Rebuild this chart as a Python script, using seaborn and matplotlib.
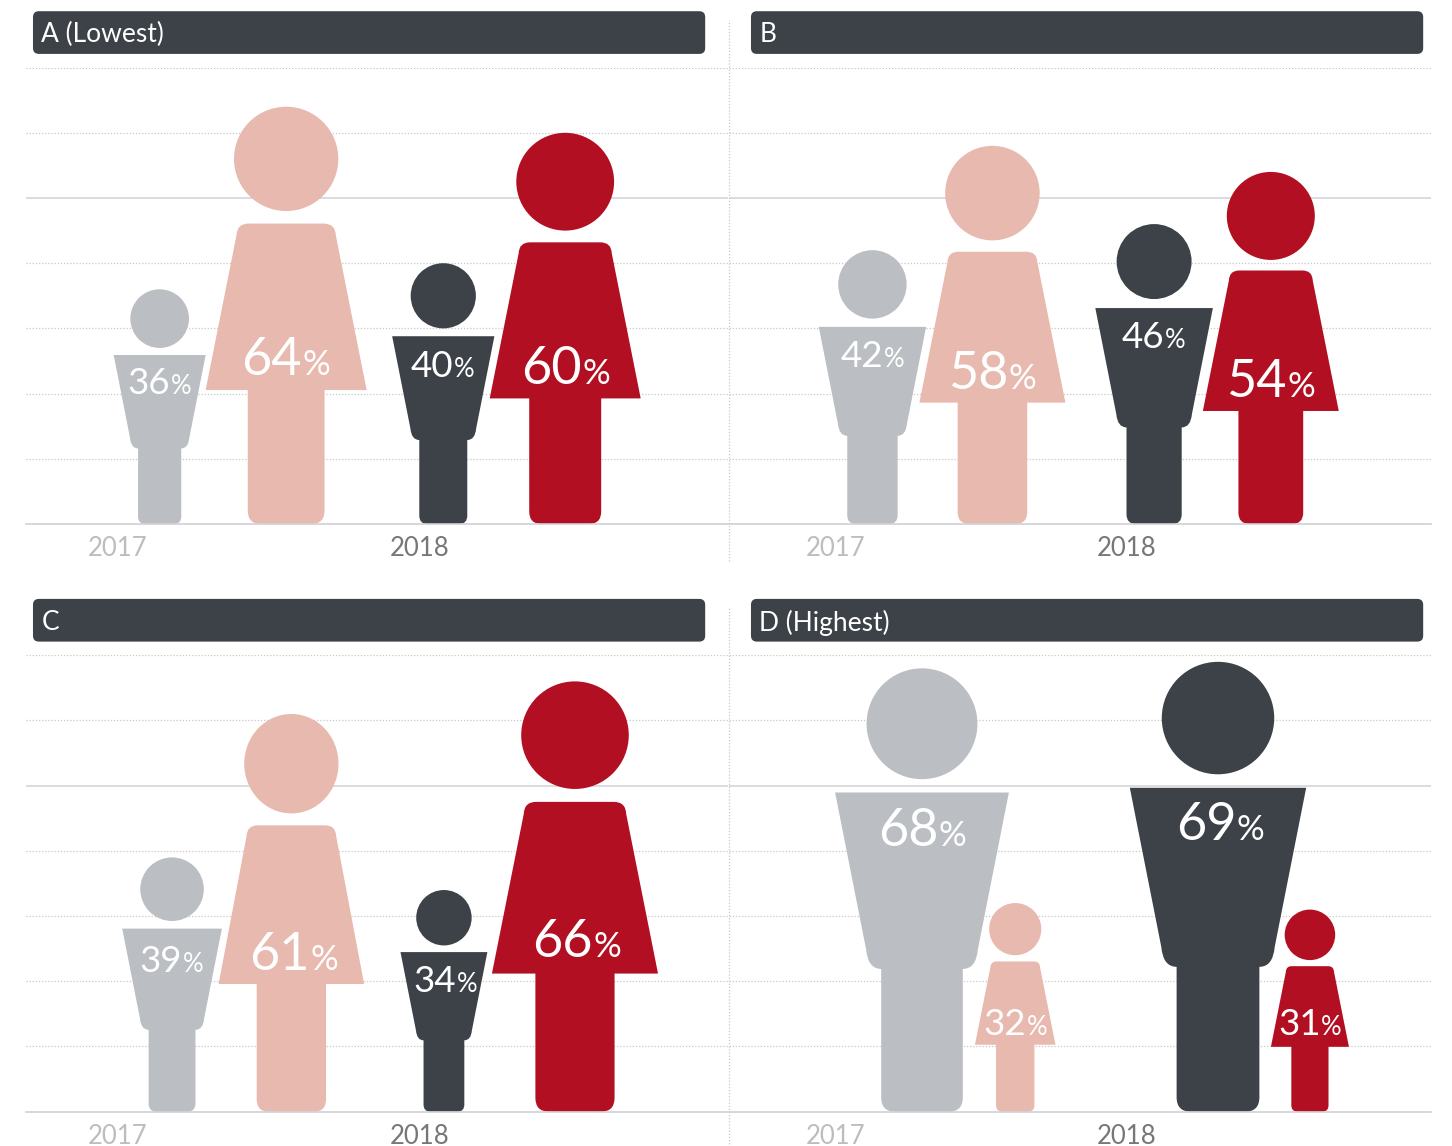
import matplotlib
matplotlib.use("Agg")
import matplotlib.pyplot as plt
import pandas as pd
import seaborn as sns
from matplotlib.patches import Ellipse, FancyBboxPatch, PathPatch
from matplotlib.path import Path

# Survey shares by income band, split by year and gender
PANELS = ["A (Lowest)", "B", "C", "D (Highest)"]
MEN_2017 = [36, 42, 39, 68]
WOMEN_2017 = [64, 58, 61, 32]
MEN_2018 = [40, 46, 34, 69]
WOMEN_2018 = [60, 54, 66, 31]
YEARS = ["2017", "2018"]

# Figure placement in pixels
W, H = 1452, 1146
PX = 6.52  # pixels per percentage point
X_SPAN = 107.7
Y_TOP = 70

COLORS = {("M", "2017"): "#BBBEC2", ("F", "2017"): "#E8B9AE",
          ("M", "2018"): "#3C4248", ("F", "2018"): "#B30F22"}
YEAR_COLORS = {"2017": "#BDBDBD", "2018": "#777777"}
ORDER = [("M", "2017"), ("F", "2017"), ("M", "2018"), ("F", "2018")]

# Figure centres on the shared x scale, one row per panel
CENTRES = [[20.5, 39.9, 64.0, 82.7],
           [22.0, 40.4, 65.2, 83.1],
           [22.4, 40.7, 64.1, 84.2],
           [29.6, 43.9, 75.0, 89.1]]
# Horizontal stretch of each figure
STRETCH = [[1, 1, 1, 1],
           [1, 1, 1, 1],
           [1, 0.948, 1, 1],
           [1, 1, 1, 1]]
# Baseline height of each percentage label on the y scale
LABEL_Y = [[19.9, 22.9, 22.5, 21.5],
           [24.1, 20.7, 27.0, 19.5],
           [21.5, 21.8, 18.4, 23.8],
           [40.8, 11.7, 41.7, 11.7]]
LABEL_DX = [[-0.1, -0.1, -0.1, 0.05],
            [-0.1, -0.1, -0.1, -0.1],
            [-0.1, 0.35, 0.2, 0.2],
            [0, -0.05, 0.3, -0.05]]
YEAR_TICKS = [[14.0, 60.4], [16.4, 61.0], [14.0, 60.4], [16.4, 61.0]]
AX_BOX = [(26, 67.6, 702.2, 456.4), (729, 67.6, 702.2, 456.4),
          (26, 655.3, 702.2, 456.4), (729, 655.3, 702.2, 456.4)]
HEADER_X = [1.07, 3.37, 1.07, 3.37]

sns.set_theme(style="white")
plt.rcParams["font.family"] = ["Lato", "DejaVu Sans"]

records = []
for i, panel in enumerate(PANELS):
    series = [MEN_2017[i], WOMEN_2017[i], MEN_2018[i], WOMEN_2018[i]]
    for j, ((gender, year), value) in enumerate(zip(ORDER, series)):
        records.append({"panel": panel, "gender": gender, "year": year,
                        "value": value, "centre": CENTRES[i][j], "stretch": STRETCH[i][j],
                        "label_y": LABEL_Y[i][j], "label_dx": LABEL_DX[i][j]})
df = pd.DataFrame(records)


def body_path(cx, h, gender, stretch):
    """Outline of a pictogram torso and legs for a figure of height h."""
    top = 0.72 * h
    leg = 0.092 * h
    r = 0.032 * h
    if gender == "M":
        sh, waist_y, waist = 0.196 * h, 0.322 * h, 0.122 * h
        c = 0.022 * h
        pts = [(sh, top), (waist + 0.004 * h, waist_y + 2 * c),
               (waist, waist_y), (waist - 0.03 * h, waist_y)]
        codes_side = [Path.LINETO, Path.CURVE3, Path.CURVE3]
    else:
        flat, mid_y, mid = 0.090 * h, 0.692 * h, 0.118 * h
        skirt, hem = 0.193 * h, 0.321 * h
        pts = [(flat, top), (mid, top), (mid + 0.001 * h, mid_y), (skirt, hem)]
        codes_side = [Path.CURVE3, Path.CURVE3, Path.LINETO]

    right = pts + [(leg, pts[-1][1]), (leg, r), (leg, 0), (leg - r, 0)]
    right_codes = codes_side + [Path.LINETO, Path.LINETO, Path.CURVE3, Path.CURVE3]
    verts = [(cx + x * stretch, y) for x, y in right]
    codes = [Path.MOVETO] + right_codes
    left = [(cx - x * stretch, y) for x, y in reversed(right)]
    # The mirrored side walks the same curves backwards, so keep control points paired
    verts += left
    codes += [Path.LINETO, Path.CURVE3, Path.CURVE3, Path.LINETO, Path.LINETO] + list(reversed(codes_side))
    verts.append(verts[0])
    codes.append(Path.CLOSEPOLY)
    return Path(verts, codes)


def draw_figures(data, **_):
    ax = plt.gca()
    for row in data.itertuples():
        h = row.value
        colour = COLORS[(row.gender, row.year)]
        ax.add_patch(Ellipse((row.centre, h * 0.875), h * 0.25 * row.stretch, h * 0.25,
                             fc=colour, ec="none", zorder=2))
        ax.add_patch(PathPatch(body_path(row.centre, h, row.gender, row.stretch),
                               fc=colour, ec="none", zorder=2))

        big = h >= 50
        num_size, pct_size = (37.5, 25) if big else (26.5, 18.5)
        renderer = ax.figure.canvas.get_renderer()
        x = row.centre + row.label_dx
        num = ax.text(x, row.label_y, str(h), color="white", fontsize=num_size,
                      ha="left", va="baseline", zorder=3)
        pct = ax.text(x, row.label_y, "%", color="white", fontsize=pct_size,
                      ha="left", va="baseline", zorder=3)
        w_num = num.get_window_extent(renderer).width / PX
        w_pct = pct.get_window_extent(renderer).width / PX
        start = x - (w_num + w_pct) / 2
        num.set_x(start)
        pct.set_x(start + w_num + 0.1)


grid = sns.FacetGrid(df, col="panel", col_wrap=2, col_order=PANELS,
                     sharex=False, sharey=False, height=5, aspect=1.2)
fig = grid.figure
fig.set_size_inches(W / 100, H / 100)
fig.set_dpi(100)

for ax in grid.axes.flat:
    ax.set_xlim(0, X_SPAN)
    ax.set_ylim(0, Y_TOP)

grid.map_dataframe(draw_figures)
grid.set_titles("")
grid.set_axis_labels("", "")

DOTTED = (0, (1, 1.5))

for i, ax in enumerate(grid.axes.flat):
    ax.set_title("")
    # Horizontal scale lines every ten points, the 50 line drawn solid
    ax.set_axisbelow(True)
    ax.set_yticks(range(10, Y_TOP + 1, 10))
    ax.set_yticklabels([])
    ax.tick_params(axis="y", length=0)
    ax.yaxis.grid(True, color="#C8C8C8", linewidth=0.9, linestyle=DOTTED)
    for tick_value, line in zip(range(10, Y_TOP + 1, 10), ax.get_ygridlines()):
        if tick_value == 50:
            line.set_linestyle("-")
            line.set_color("#D4D4DA")
            line.set_linewidth(1.2)

    # Year labels sit on the x axis
    ax.set_xticks(YEAR_TICKS[i])
    ax.set_xticklabels(YEARS, fontsize=18.5)
    ax.tick_params(axis="x", length=0, pad=8.5)
    for lab, year in zip(ax.get_xticklabels(), YEARS):
        lab.set_color(YEAR_COLORS[year])

    sns.despine(ax=ax, left=True, top=True, right=True, bottom=False)
    ax.spines["bottom"].set_color("#D0D0D6")
    ax.spines["bottom"].set_linewidth(1.2)

    # Panel header bar
    ax.add_patch(FancyBboxPatch((HEADER_X[i], 72.1), 103.1, 6.55,
                                boxstyle="round,pad=0,rounding_size=0.9",
                                fc="#3C4248", ec="none", clip_on=False, zorder=4))
    ax.text(HEADER_X[i] + 1.3, 75.4, PANELS[i], color="white", fontsize=19,
            ha="left", va="center_baseline", zorder=5, clip_on=False)

    # Dotted divider between the two columns
    if i % 2 == 1:
        ax.plot([0, 0], [-5.7, 77.3], color="#C8C8C8", linewidth=0.9,
                linestyle=DOTTED, clip_on=False, zorder=1)

# FacetGrid tightens the layout while drawing, so the panel boxes are fixed last
for i, ax in enumerate(grid.axes.flat):
    x0, y0, w, h = AX_BOX[i]
    ax.set_position([x0 / W, 1 - (y0 + h) / H, w / W, h / H])
    ax.set_xlim(0, X_SPAN)
    ax.set_ylim(0, Y_TOP)

fig.savefig("out.png", dpi=100, facecolor="white")
